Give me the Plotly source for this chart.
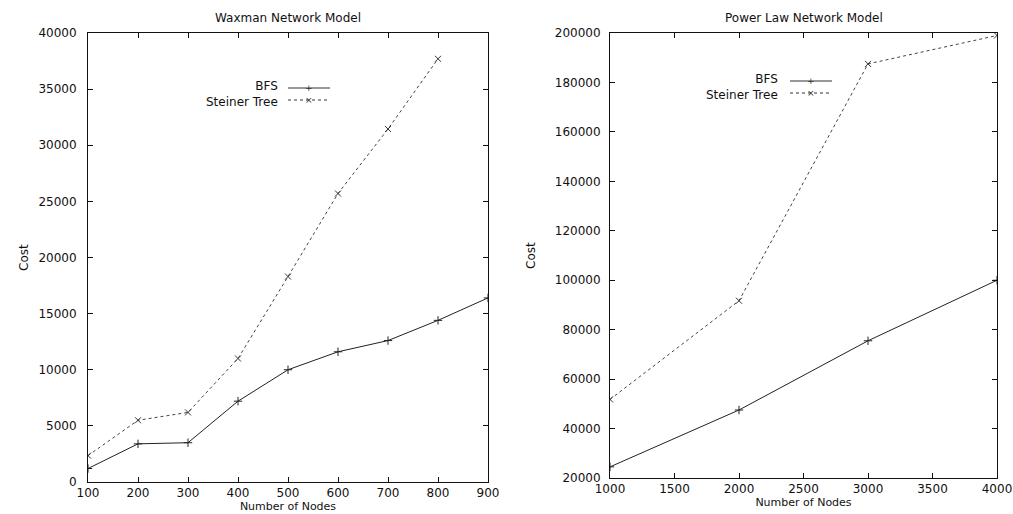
import plotly.graph_objects as go

# ---- data ----
wax_nodes = [100, 200, 300, 400, 500, 600, 700, 800, 900]
wax_bfs = [1200, 3400, 3500, 7200, 10000, 11600, 12600, 14400, 16400]
wax_steiner_nodes = [100, 200, 300, 400, 500, 600, 700, 800]
wax_steiner = [2350, 5500, 6200, 11000, 18300, 25700, 31450, 37700]

pl_nodes = [1000, 2000, 3000, 4000]
pl_bfs = [24500, 47500, 75500, 100000]
pl_steiner = [51800, 91700, 187500, 199000]

wax_xticks = [100, 200, 300, 400, 500, 600, 700, 800, 900]
wax_yticks = [0, 5000, 10000, 15000, 20000, 25000, 30000, 35000, 40000]
pl_xticks = [1000, 1500, 2000, 2500, 3000, 3500, 4000]
pl_yticks = [20000, 40000, 60000, 80000, 100000, 120000, 140000, 160000, 180000, 200000]

FONT = "DejaVu Sans"
BLACK = "#111111"
W, H = 1013, 514

fig = go.Figure()

bfs_line = dict(color="#222222", width=1)
plus_marker = dict(symbol="cross-thin-open", size=6, color="#222", line=dict(width=1, color="#222"))
x_marker = dict(symbol="x-thin-open", size=6, color="#333", line=dict(width=1, color="#333"))

fig.add_trace(go.Scatter(x=wax_nodes, y=wax_bfs, mode="lines+markers", name="BFS",
                         line=bfs_line, marker=plus_marker, xaxis="x", yaxis="y"))
fig.add_trace(go.Scatter(x=wax_steiner_nodes, y=wax_steiner, mode="lines+markers", name="Steiner Tree",
                         line=dict(color="#444444", width=1, dash="dot"), marker=x_marker,
                         xaxis="x", yaxis="y"))
fig.add_trace(go.Scatter(x=pl_nodes, y=pl_bfs, mode="lines+markers", name="BFS",
                         line=bfs_line, marker=plus_marker, xaxis="x2", yaxis="y2"))
fig.add_trace(go.Scatter(x=pl_nodes, y=pl_steiner, mode="lines+markers", name="Steiner Tree",
                         line=dict(color="#444444", width=1, dash="3px,3px"), marker=x_marker,
                         xaxis="x2", yaxis="y2"))

tickfont = dict(family=FONT, size=12, color=BLACK)
titlefont = dict(family=FONT, size=12, color=BLACK)
xtitlefont = dict(family=FONT, size=11, color=BLACK)
axis_common = dict(showline=True, linecolor=BLACK, linewidth=1, mirror="ticks",
                   ticks="inside", ticklen=5, tickcolor=BLACK, tickwidth=1,
                   showgrid=False, zeroline=False, automargin=False,
                   tickformat="d", tickfont=tickfont)

fig.update_layout(
    width=W, height=H,
    margin=dict(l=0, r=0, t=0, b=0),
    paper_bgcolor="white", plot_bgcolor="white",
    showlegend=False,
    xaxis=dict(domain=[88/W, 488/W], range=[100, 900], tickvals=wax_xticks,
               anchor="y", ticklabelstandoff=0, **axis_common,
               title=dict(text="Number of Nodes", font=xtitlefont, standoff=1)),
    yaxis=dict(domain=[1-482/H, 1-33/H], range=[0, 40000], tickvals=wax_yticks,
               anchor="x", ticklabelstandoff=8, **axis_common),
    xaxis2=dict(domain=[610/W, 997/W], range=[1000, 4000], tickvals=pl_xticks,
                anchor="y2", ticklabelstandoff=0, **axis_common,
                title=dict(text="Number of Nodes", font=xtitlefont, standoff=1)),
    yaxis2=dict(domain=[1-478/H, 1-33/H], range=[20000, 200000], tickvals=pl_yticks,
                anchor="x2", ticklabelstandoff=6, **axis_common),
)

# y-axis titles
fig.add_annotation(text="Cost", x=24/W, y=1-258/H, xref="paper", yref="paper", textangle=-90,
                   showarrow=False, font=titlefont, xanchor="center", yanchor="middle")
fig.add_annotation(text="Cost", x=531/W, y=1-256/H, xref="paper", yref="paper", textangle=-90,
                   showarrow=False, font=titlefont, xanchor="center", yanchor="middle")

# titles
fig.add_annotation(text="Waxman Network Model", x=(88+488)/2/W, y=1-18/H, xref="paper", yref="paper",
                   showarrow=False, font=titlefont, xanchor="center", yanchor="middle")
fig.add_annotation(text="Power Law Network Model", x=(610+997)/2/W, y=1-18/H, xref="paper", yref="paper",
                   showarrow=False, font=titlefont, xanchor="center", yanchor="middle")

# gnuplot-style keys (labels on the left, line samples on the right)
def key(text_right_px, sample_x0, sample_x1, y_top_px, y_bot_px, labels, dashes):
    yc = (y_top_px + y_bot_px) / 2
    fig.add_annotation(text="<br>".join(labels), x=text_right_px/W, y=1-yc/H, xref="paper", yref="paper",
                       showarrow=False, xanchor="right", yanchor="middle", align="right",
                       font=dict(family=FONT, size=12, color=BLACK))
    for yy, dash, sym in zip([y_top_px, y_bot_px], dashes, ["+", "×"]):
        fig.add_shape(type="line", xref="paper", yref="paper",
                      x0=sample_x0/W, x1=sample_x1/W, y0=1-yy/H, y1=1-yy/H,
                      line=dict(color="#333", width=1, dash=dash))
        fig.add_annotation(text=sym, x=(sample_x0+sample_x1)/2/W, y=1-yy/H, xref="paper", yref="paper",
                           showarrow=False, xanchor="center", yanchor="middle",
                           font=dict(family=FONT, size=9, color="#333"))

key(280, 288, 330, 88, 100, ["BFS", "Steiner Tree"], ["solid", "dot"])
key(780, 790, 832, 81, 93, ["BFS", "Steiner Tree"], ["solid", "3px,3px"])

fig.write_html("out.html")
